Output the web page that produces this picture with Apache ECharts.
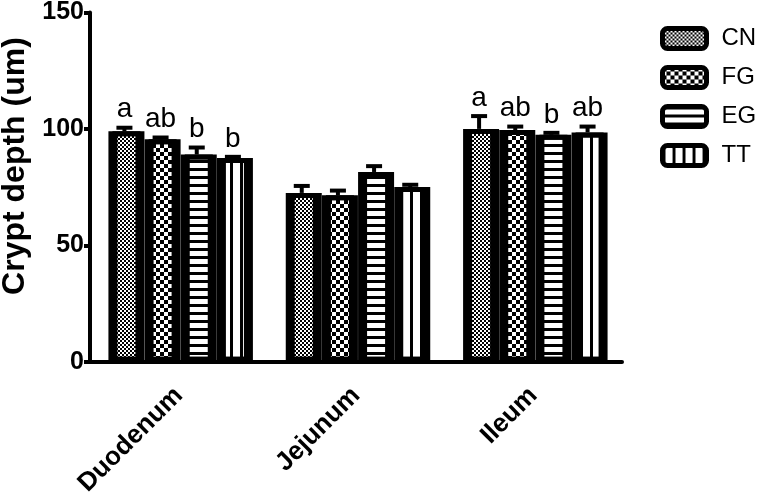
<!DOCTYPE html>
<html><head><meta charset="utf-8">
<script src="https://cdn.jsdelivr.net/npm/echarts@6/dist/echarts.min.js"></script>
<style>html,body{margin:0;padding:0;background:#fff}#c{width:758px;height:499px}</style>
</head><body><div id="c"></div>
<script>
// ---- data ----
const categories = ['Duodenum', 'Jejunum', 'Ileum'];
const seriesNames = ['CN', 'FG', 'EG', 'TT'];
const cnValues = [99, 72.5, 100];
const fgValues = [95.5, 71.5, 99.5];
const egValues = [89, 81.5, 97.5];
const ttValues = [87.5, 75, 98.5];
const cnErrors = [1.5, 3, 5.5];
const fgErrors = [0.8, 2, 1.5];
const egErrors = [3, 2.5, 0.8];
const ttErrors = [0.5, 1, 2.5];
const cnLetters = ['a', '', 'a'];
const fgLetters = ['ab', '', 'ab'];
const egLetters = ['b', '', 'b'];
const ttLetters = ['b', '', 'ab'];
const yTicks = [0, 50, 100, 150];

const allValues = [cnValues, fgValues, egValues, ttValues];
const allErrors = [cnErrors, fgErrors, egErrors, ttErrors];
const allLetters = [cnLetters, fgLetters, egLetters, ttLetters];

// ---- patterns ----
function pat(w, h, draw) {
  const c = document.createElement('canvas');
  c.width = w; c.height = h;
  const g = c.getContext('2d');
  g.fillStyle = '#fff'; g.fillRect(0, 0, w, h);
  g.fillStyle = '#000';
  draw(g);
  return { image: c, repeat: 'repeat' };
}
const patterns = [
  pat(4, 4, g => { g.fillRect(0, 0, 2, 2); g.fillRect(2, 2, 2, 2); }),
  pat(8, 8, g => { g.fillRect(0, 0, 4, 4); g.fillRect(4, 4, 4, 4); }),
  pat(8, 8, g => { g.fillRect(0, 0, 8, 3); }),
  pat(10, 10, g => { g.fillRect(0, 0, 3, 10); })
];

const FONT = '"Liberation Sans", Arial, Helvetica, sans-serif';
const barWidth = 32;
const barGapRatio = 0.13;
const step = barWidth * (1 + barGapRatio);

const barSeries = seriesNames.map((n, i) => ({
  name: n,
  type: 'bar',
  data: allValues[i],
  barWidth: barWidth,
  barGap: (barGapRatio * 100) + '%',
  itemStyle: {
    color: patterns[i], borderColor: '#000', borderWidth: 5,
    shadowColor: '#000', shadowBlur: 0, shadowOffsetX: 4, shadowOffsetY: 0
  },
  emphasis: { disabled: true },
  z: 2
}));

const errData = [];
const errLetters = [];
for (let gi = 0; gi < 4; gi++) {
  for (let ci = 0; ci < categories.length; ci++) {
    errData.push([ci, gi, allValues[gi][ci], allErrors[gi][ci]]);
    errLetters.push(allLetters[gi][ci]);
  }
}

const errSeries = {
  type: 'custom',
  data: errData,
  z: 5,
  silent: true,
  encode: { x: 0, y: 2 },
  renderItem: function (params, api) {
    const ci = api.value(0), gi = api.value(1), v = api.value(2), e = api.value(3);
    const base = api.coord([ci, v]);
    const top = api.coord([ci, v + e]);
    const x = base[0] + (gi - 1.5) * step;
    const children = [
      { type: 'line', shape: { x1: x, y1: base[1], x2: x, y2: top[1] }, style: { stroke: '#000', lineWidth: 4 } },
      { type: 'line', shape: { x1: x - 8, y1: top[1], x2: x + 8, y2: top[1] }, style: { stroke: '#000', lineWidth: 4 } }
    ];
    const t = errLetters[params.dataIndex];
    if (t) {
      children.push({ type: 'text', x: x, y: top[1] - 4, style: { text: t, fill: '#000', font: '28px ' + FONT, align: 'center', verticalAlign: 'bottom' } });
    }
    return { type: 'group', children: children };
  }
};

const chart = echarts.init(document.getElementById('c'), null, { renderer: 'canvas' });
chart.setOption({
  animation: false,
  backgroundColor: '#fff',
  textStyle: { fontFamily: FONT },
  grid: { left: 90, right: 136, top: 11, bottom: 136 },
  legend: {
    data: seriesNames,
    orient: 'vertical',
    left: 655,
    top: 21,
    itemWidth: 44,
    itemHeight: 20,
    itemGap: 14,
    icon: 'roundRect',
    itemStyle: { borderColor: '#000', borderWidth: 5, shadowBlur: 0, shadowOffsetX: 0, shadowColor: 'transparent' },
    textStyle: { fontSize: 24, color: '#000', fontFamily: FONT, padding: [0, 0, 0, 10] },
    selectedMode: false
  },
  xAxis: {
    type: 'category',
    data: categories,
    axisLine: { lineStyle: { color: '#000', width: 4 } },
    axisTick: { alignWithLabel: true, length: 7, lineStyle: { color: '#000', width: 4 } },
    axisLabel: { rotate: 45, margin: 30, fontSize: 26, fontWeight: 'bold', color: '#000', fontFamily: FONT }
  },
  yAxis: {
    type: 'value',
    min: yTicks[0],
    max: yTicks[yTicks.length - 1],
    interval: yTicks[1] - yTicks[0],
    splitLine: { show: false },
    axisLine: { show: true, lineStyle: { color: '#000', width: 4 } },
    axisTick: { show: true, length: 6, lineStyle: { color: '#000', width: 4 } },
    axisLabel: { margin: 6, fontSize: 25, fontWeight: 'bold', color: '#000', fontFamily: FONT }
  },
  graphic: [{
    type: 'text',
    x: 15, y: 166,
    rotation: Math.PI / 2,
    style: { text: 'Crypt depth (um)', font: 'bold 32px ' + FONT, fill: '#000', align: 'center', verticalAlign: 'middle' }
  }],
  series: barSeries.concat([errSeries])
});
</script>
</body></html>
